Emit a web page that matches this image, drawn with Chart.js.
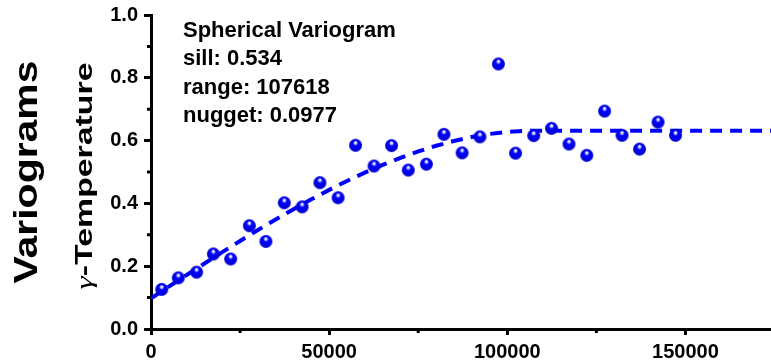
<!DOCTYPE html>
<html>
<head>
<meta charset="utf-8">
<script src="https://cdn.jsdelivr.net/npm/chart.js@4.4.0/dist/chart.umd.min.js"></script>
<style>
  html, body { margin: 0; padding: 0; background: #fff; }
  canvas { display: block; }
</style>
</head>
<body>
<canvas id="vario" width="771" height="363"></canvas>
<script>
// experimental semivariance (lag distance, gamma)
const lagDist = [3000, 7650, 12800, 17500, 22350, 27600, 32250, 37400, 42400, 47400,
                 52500, 57400, 62600, 67500, 72200, 77300, 82200, 87300, 92300, 97500,
                 102300, 107400, 112400, 117300, 122300, 127300, 132200, 137100, 142300, 147200];
const gammaVals = [0.126, 0.163, 0.181, 0.239, 0.223, 0.329, 0.279, 0.402, 0.389, 0.466,
                   0.418, 0.585, 0.519, 0.584, 0.506, 0.525, 0.620, 0.561, 0.612, 0.844,
                   0.560, 0.616, 0.639, 0.589, 0.553, 0.694, 0.617, 0.573, 0.659, 0.617];

// fitted model line
const modelDist = [0, 5000, 10000, 15000, 20000, 25000, 30000, 35000, 40000, 45000, 50000,
                   55000, 60000, 65000, 70000, 75000, 80000, 85000, 90000, 95000, 100000,
                   105000, 107618, 174000];
const modelGamma = [0.0977, 0.1349, 0.1719, 0.2086, 0.2448, 0.2804, 0.3152, 0.3490, 0.3817, 0.4131, 0.4431,
                    0.4714, 0.4980, 0.5227, 0.5452, 0.5656, 0.5835, 0.5988, 0.6114, 0.6211, 0.6278,
                    0.6312, 0.6317, 0.6317];

const xTickVals = [0, 50000, 100000, 150000];
const yTickVals = [0, 0.2, 0.4, 0.6, 0.8, 1.0];
const yMinor = [0.1, 0.3, 0.5, 0.7, 0.9];
const xMinor = [25000, 75000, 125000];
const noteLines = ['Spherical Variogram', 'sill: 0.534', 'range: 107618', 'nugget: 0.0977'];

const FONT = '"Liberation Sans", Arial, sans-serif';

function ball(r) {
  const c = document.createElement('canvas');
  const s = Math.ceil(r * 2 + 2);
  c.width = c.height = s;
  const g = c.getContext('2d');
  const cx = s / 2, cy = s / 2;
  const grad = g.createRadialGradient(cx, cy - r * 0.5, 0, cx, cy, r);
  grad.addColorStop(0, '#ffffff');
  grad.addColorStop(0.2, '#c8c8ff');
  grad.addColorStop(0.38, '#0000ff');
  grad.addColorStop(1, '#0000d0');
  g.fillStyle = grad;
  g.beginPath();
  g.arc(cx, cy, r, 0, Math.PI * 2);
  g.fill();
  return c;
}

// rotated title, stretched along its length to fit len px
function vText(ctx, parts, x, y, len) {
  ctx.save();
  ctx.translate(x, y);
  ctx.rotate(-Math.PI / 2);
  let w = 0;
  parts.forEach(p => { ctx.font = p.font; w += ctx.measureText(p.text).width; });
  ctx.scale(len / w, 1);
  ctx.textAlign = 'left';
  ctx.textBaseline = 'alphabetic';
  let pos = -w / 2;
  parts.forEach(p => {
    ctx.font = p.font;
    ctx.fillText(p.text, pos, 0);
    pos += ctx.measureText(p.text).width;
  });
  ctx.restore();
}

const extras = {
  id: 'extras',
  afterDraw(chart) {
    const { ctx, chartArea, scales } = chart;
    ctx.save();
    ctx.fillStyle = '#000';
    ctx.font = 'bold 22px ' + FONT;
    ctx.textAlign = 'left';
    ctx.textBaseline = 'alphabetic';
    noteLines.forEach((t, i) => ctx.fillText(t, chartArea.left + 32, chartArea.top + 22 + i * 28.3));

    vText(ctx, [{ text: 'Variograms', font: 'bold 33px ' + FONT }], 37, 172, 223);
    vText(ctx, [
      { text: 'γ', font: 'italic 23px "Liberation Serif", "DejaVu Serif", serif' },
      { text: '-Temperature', font: 'bold 23px ' + FONT }
    ], 92, 176, 227);

    ctx.strokeStyle = '#000';
    ctx.lineWidth = 3;
    ctx.beginPath();
    yMinor.forEach(v => {
      const y = scales.y.getPixelForValue(v);
      ctx.moveTo(chartArea.left - 4, y);
      ctx.lineTo(chartArea.left, y);
    });
    xMinor.forEach(v => {
      const x = scales.x.getPixelForValue(v);
      ctx.moveTo(x, chartArea.bottom);
      ctx.lineTo(x, chartArea.bottom + 4);
    });
    ctx.stroke();
    ctx.restore();
  }
};

new Chart(document.getElementById('vario').getContext('2d'), {
  type: 'scatter',
  data: {
    datasets: [{
      label: 'experimental',
      data: lagDist.map((d, i) => ({ x: d, y: gammaVals[i] })),
      pointStyle: ball(6.5),
      pointRadius: 6.5,
      order: 0
    }, {
      label: 'spherical model',
      data: modelDist.map((d, i) => ({ x: d, y: modelGamma[i] })),
      showLine: true,
      borderColor: '#0000ff',
      borderWidth: 4,
      borderDash: [12, 8],
      borderCapStyle: 'butt',
      pointRadius: 0,
      order: 1
    }]
  },
  options: {
    responsive: false,
    animation: false,
    devicePixelRatio: 1,
    layout: { autoPadding: false, padding: { top: 15, right: 0, left: 0, bottom: 0 } },
    plugins: {
      legend: { display: false },
      tooltip: { enabled: false }
    },
    scales: {
      x: {
        type: 'linear',
        min: 0,
        max: 174000,
        afterFit: (axis) => { axis.height = 34; axis.paddingLeft = 0; axis.paddingRight = 0; },
        afterBuildTicks: (axis) => { axis.ticks = xTickVals.map(v => ({ value: v })); },
        border: { display: true, color: '#000', width: 3 },
        grid: { drawOnChartArea: false, tickLength: 6, tickWidth: 3, tickColor: '#000' },
        ticks: {
          padding: 5,
          color: '#000',
          font: { family: FONT, size: 20, weight: 'bold' },
          callback: v => String(v)
        }
      },
      y: {
        min: 0,
        max: 1,
        afterFit: (axis) => { axis.width = 151; axis.paddingTop = 0; axis.paddingBottom = 0; },
        afterBuildTicks: (axis) => { axis.ticks = yTickVals.map(v => ({ value: v })); },
        border: { display: true, color: '#000', width: 3 },
        grid: { drawOnChartArea: false, tickLength: 7, tickWidth: 3, tickColor: '#000' },
        ticks: {
          padding: 6,
          color: '#000',
          font: { family: FONT, size: 20, weight: 'bold' },
          callback: v => v.toFixed(1)
        }
      }
    }
  },
  plugins: [extras]
});
</script>
</body>
</html>
